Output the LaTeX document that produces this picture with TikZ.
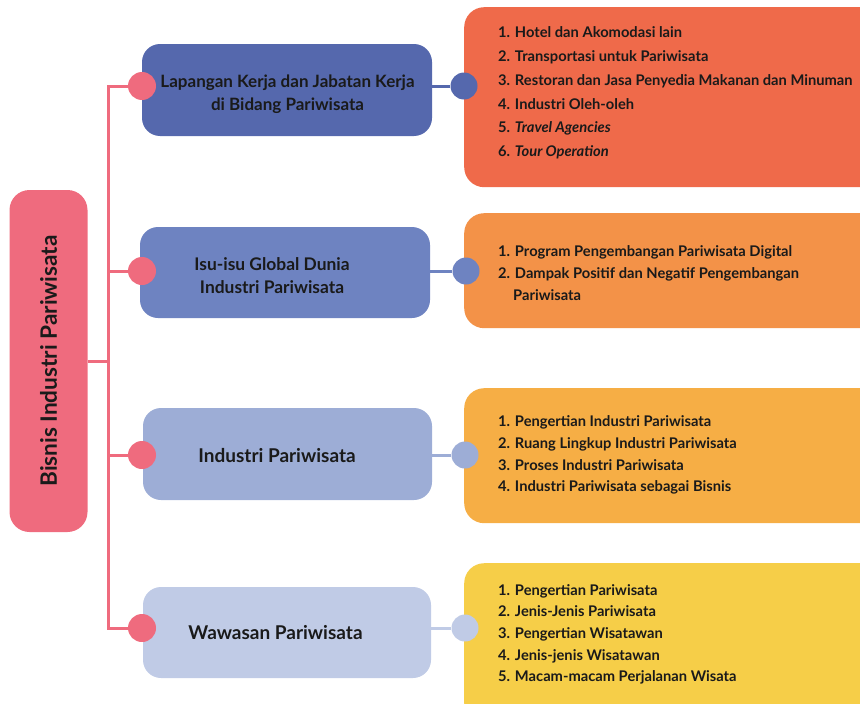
\documentclass[tikz,border=0pt]{standalone}
\usepackage{fontspec}
\setmainfont{Lato}
\definecolor{pinkc}{HTML}{EF6B7E}
\definecolor{bA}{HTML}{5568AD}
\definecolor{bB}{HTML}{6E83C1}
\definecolor{bC}{HTML}{9DADD6}
\definecolor{bD}{HTML}{C0CBE6}
\definecolor{oA}{HTML}{EF6A4A}
\definecolor{oB}{HTML}{F39248}
\definecolor{oC}{HTML}{F6AE45}
\definecolor{oD}{HTML}{F6CE48}
\definecolor{txt}{HTML}{1A1A1A}
\tikzset{
  lvbox/.style={rectangle, rounded corners=18pt, minimum width=290pt, minimum height=92pt, inner sep=0pt},
  lvtext/.style={align=center, text=txt, font=\bfseries\fontsize{17}{23}\selectfont, inner sep=0pt},
  bigtext/.style={lvtext, font=\bfseries\fontsize{19}{23}\selectfont},
  listbox/.style={rectangle, rounded corners=20pt, anchor=north west, minimum width=420pt, inner sep=0pt},
  pdot/.style={circle, fill=pinkc, minimum size=28pt, inner sep=0pt},
  rdot/.style={circle, minimum size=27pt, inner sep=0pt},
  item/.style={anchor=west, text=txt, font=\bfseries\fontsize{14.7}{16}\selectfont, inner sep=0pt, text height=10.5pt, text depth=3pt},
  pline/.style={draw=pinkc, line width=3pt},
}
\begin{document}
\begin{tikzpicture}[x=1pt,y=-1pt]
\useasboundingbox (0,0) rectangle (860,704);
% root
\node[rectangle, rounded corners=20pt, fill=pinkc, minimum width=78pt, minimum height=342pt, inner sep=0pt] (root) at (48.5,361) {};
\node[rotate=90, text=txt, font=\bfseries\fontsize{22.6}{24}\selectfont] (roottxt) at (root.center) {Bisnis Industri Pariwisata};
% spine coordinates
\coordinate (j0) at (108,361);
\coordinate (j1) at (108,86);
\coordinate (j2) at (108,271);
\coordinate (j3) at (108,455);
\coordinate (j4) at (108,628);
% list boxes
\node[listbox, fill=oA, minimum height=180pt] (r1) at (464,7) {};
\node[listbox, fill=oB, minimum height=115pt] (r2) at (464,213) {};
\node[listbox, fill=oC, minimum height=135pt] (r3) at (464,388) {};
\node[listbox, fill=oD, minimum height=160pt] (r4) at (464,563) {};
% level boxes
\node[lvbox, fill=bA] (b1) at (287,90) {};
\node[lvbox, fill=bB, minimum height=91pt] (b2) at (285,272.5) {};
\node[lvbox, fill=bC, minimum width=289pt] (b3) at (287.5,454) {};
\node[lvbox, fill=bD, minimum width=288pt, minimum height=91pt] (b4) at (287,632.5) {};
\node[lvtext] (t1) at (287.5,94.5) {Lapangan Kerja dan Jabatan Kerja\\di Bidang Pariwisata};
\node[lvtext, font=\bfseries\fontsize{17.4}{23}\selectfont] (t2) at (272,275.5) {Isu-isu Global Dunia\\Industri Pariwisata};
\node[bigtext] (t3) at (277,456) {Industri Pariwisata};
\node[bigtext] (t4) at (275.5,633) {Wawasan Pariwisata};
% pink dots
\node[pdot] (p1) at (142,86) {};
\node[pdot] (p2) at (142,271) {};
\node[pdot] (p3) at (142,455) {};
\node[pdot] (p4) at (142,628) {};
% right dots
\node[rdot, fill=bA] (d1) at (464,86) {};
\node[rdot, fill=bB] (d2) at (466,271) {};
\node[rdot, fill=bC] (d3) at (465,455) {};
\node[rdot, fill=bD] (d4) at (465,628) {};
% connectors
\draw[pline] (root.east |- j0) -- (j0);
\draw[pline, line cap=rect] (j1) -- (j4);
\draw[pline] (j1) -- (p1.west);
\draw[pline] (j2) -- (p2.west);
\draw[pline] (j3) -- (p3.west);
\draw[pline] (j4) -- (p4.west);
\draw[draw=bA, line width=3pt] (b1.east |- d1) -- (d1.west);
\draw[draw=bB, line width=3pt] (b2.east |- d2) -- (d2.west);
\draw[draw=bC, line width=3pt] (b3.east |- d3) -- (d3.west);
\draw[draw=bD, line width=3pt] (b4.east |- d4) -- (d4.west);
% list items
\node[item] (i11) at (498,34) {1. Hotel dan Akomodasi lain};
\node[item] (i12) at (498,58) {2. Transportasi untuk Pariwisata};
\node[item] (i13) at (498,82) {3. Restoran dan Jasa Penyedia Makanan dan Minuman};
\node[item] (i14) at (498,106) {4. Industri Oleh-oleh};
\node[item] (i15) at (498,129) {5. \textit{Travel Agencies}};
\node[item] (i16) at (498,153) {6. \textit{Tour Operation}};
\node[item] (i21) at (498,253) {1. Program Pengembangan Pariwisata Digital};
\node[item] (i22) at (498,275) {2. Dampak Positif dan Negatif Pengembangan};
\node[item] (i23) at (513,297) {Pariwisata};
\node[item] (i31) at (498,423) {1. Pengertian Industri Pariwisata};
\node[item] (i32) at (498,445) {2. Ruang Lingkup Industri Pariwisata};
\node[item] (i33) at (498,467) {3. Proses Industri Pariwisata};
\node[item] (i34) at (498,488) {4. Industri Pariwisata sebagai Bisnis};
\node[item] (i41) at (498,592) {1. Pengertian Pariwisata};
\node[item] (i42) at (498,613) {2. Jenis-Jenis Pariwisata};
\node[item] (i43) at (498,635) {3. Pengertian Wisatawan};
\node[item] (i44) at (498,657) {4. Jenis-jenis Wisatawan};
\node[item] (i45) at (498,678) {5. Macam-macam Perjalanan Wisata};
\end{tikzpicture}
\end{document}
